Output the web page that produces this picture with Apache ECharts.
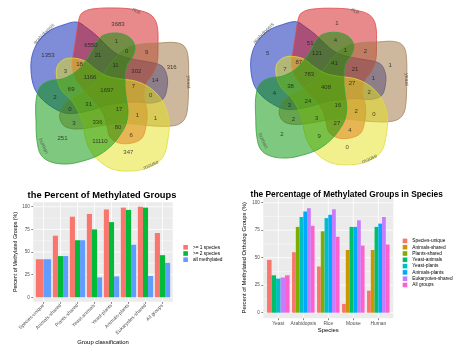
<!DOCTYPE html>
<html><head><meta charset="utf-8">
<script src="https://cdn.jsdelivr.net/npm/echarts@6/dist/echarts.min.js"></script>
<style>html,body{margin:0;padding:0;background:#fff}#c{width:461px;height:355px}</style>
</head><body><div id="c"></div>
<script>
// ---------------- DATA ----------------
const vennSets = ['arabidopsis', 'rice', 'yeast', 'mouse', 'human'];
// region counts, same region order in both diagrams
const vennCountsAll = [3683, 1353, 6550, 1, 0, 9, 21, 18, 3, 11, 302, 316, 1166, 14, 69, 1697, 7, 0, 2, 0, 31, 17, 1, 1, 3, 336, 80, 251, 11110, 6, 347];
const vennCountsMethylated = [1, 5, 51, 4, 1, 2, 121, 87, 7, 41, 21, 1, 783, 1, 38, 408, 27, 2, 4, 3, 24, 16, 2, 0, 2, 3, 27, 2, 9, 4, 0];

const groupCategories = ['Species-unique', 'Animals-shared', 'Plants-shared', 'Yeast-animals', 'Yeast-plants', 'Animals-plants', 'Eukaryotes-shared', 'All groups'];
const groupSeriesNames = ['>= 1 species', '>= 2 species', 'all methylated'];
const pctAtLeast1 = [42, 68, 89, 92, 97, 99, 100, 71];
const pctAtLeast2 = [null, 45.5, 63, 75, 83, 96.5, 99, 46.5];
const pctAllMethylated = [42, 45.5, 63, 22, 23, 58, 23.5, 38];

const speciesCategories = ['Yeast', 'Arabidopsis', 'Rice', 'Mouse', 'Human'];
const speciesSeriesNames = ['Species-unique', 'Animals-shared', 'Plants-shared', 'Yeast-animals', 'Yeast-plants', 'Animals-plants', 'Eukaryotes-shared', 'All groups'];
const spSpeciesUnique = [48, 55, 42, 8, 20];
const spAnimalsShared = [null, null, null, 57, 57];
const spPlantsShared = [null, 78, 74, null, null];
const spYeastAnimals = [34, null, null, 78, 78];
const spYeastPlants = [31, 87, 86, null, null];
const spAnimalsPlants = [null, 92, 89, 78, 81];
const spEukaryotesShared = [32, 95, 94, 84, 87];
const spAllGroups = [34, 79, 69, 61, 62];

const yTickValues = [0, 25, 50, 75, 100];

// ---------------- LAYOUT ----------------
const FONT = '"Liberation Sans", Arial, sans-serif';
// outlines of the five Venn sets (local px around diagram centre, y down)
const setOutlines = [
  // arabidopsis
  [[-44,-66],[-30,-69],[-20,-63],[-10,-55],[0,-45],[10,-37],[25,-32],[42,-29],[55,-25],[60,-15],[60,-3],[56,8],[45,12],[30,11],[15,12],[0,14],[-15,19],[-30,22],[-42,22],[-55,16],[-66,7],[-73,-4],[-76,-20],[-75,-35],[-69,-49],[-58,-60]],
  // rice
  [[-25,-78],[-15,-82],[10,-83],[30,-81],[44,-76],[50,-66],[51,-45],[50,-28],[45,-16],[39,-8],[37,5],[40,20],[39,35],[35,47],[25,52],[12,52],[3,46],[0,35],[-4,22],[-13,10],[-24,-2],[-32,-14],[-35,-26],[-33,-40],[-30,-60],[-28,-72]],
  // yeast
  [[53,-48],[68,-48.5],[77,-45],[81,-35],[81.5,-8],[80.5,18],[77,29],[68,34.5],[46,35],[22,32.5],[5,33],[-10,35.5],[-30,38],[-42,35.5],[-47,28],[-46,19],[-40,11],[-30,5],[-20,-1],[-10,-10],[-2,-20],[8,-33],[20,-43],[35,-47]],
  // mouse
  [[-44,-31],[-35,-33],[-22,-30],[-12,-22],[0,-15],[14,-12],[28,-10],[40,-5],[50,3],[58,15],[62,30],[61,48],[56,66],[43,76],[25,80],[5,78],[-10,68],[-18,57],[-22,45],[-24,32],[-29,20],[-36,9],[-45,0],[-50,-12],[-50,-24]],
  // human
  [[-3,-56],[10,-58],[22,-54],[28,-45],[26,-35],[20,-25],[18,-10],[19,5],[21,20],[19,33],[13,44],[5,54],[-8,64],[-24,70],[-40,73],[-56,71],[-66,64],[-70,50],[-71,30],[-71,10],[-67,-4],[-58,-10],[-45,-12],[-36,-16],[-28,-22],[-20,-32],[-14,-42],[-10,-50]]
];
const setFill = ['rgba(0,25,175,0.5)', 'rgba(210,20,25,0.5)', 'rgba(155,112,60,0.5)', 'rgba(230,225,25,0.5)', 'rgba(0,145,0,0.5)'];
const setStroke = ['#3a52c4', '#de4a4c', '#a58560', '#e2dc3a', '#34a43a'];
const setLabelPos = [[-63,-57],[29.5,-80],[81,-9],[44,74],[-63.5,55]];
const setLabelRot = [45, -25, -90, 25, -65];
const regionPos = [[11,-67],[-59,-36],[-16,-46],[9.5,-49.5],[19.7,-39.3],[39.7,-38.5],[-9,-35.7],[-27.5,-26.2],[-41.5,-19.8],[8.5,-26],[29.3,-19.3],[64.7,-23.2],[-17,-14],[48,-10.3],[-35.8,-1.7],[0,-1],[26.3,-4.7],[43.7,4.8],[-52,6],[-37,18],[-18.3,13.7],[12,18.5],[30.5,24],[48.5,27.8],[-33,32.7],[-9.5,31.2],[11,36.5],[-44.5,47.8],[-7,50.2],[24.2,44],[21.3,61.8]];

const groupColors = ['#F8766D', '#00BA38', '#619CFF'];
const speciesColors = ['#F8766D', '#CD9600', '#7CAE00', '#00BE67', '#00BFC4', '#00A9FF', '#C77CFF', '#FF61CC'];

// ---------------- BUILDERS ----------------
function vennShapeSeries(axisIdx, si) {
  return {
    type: 'custom', xAxisIndex: axisIdx, yAxisIndex: axisIdx, silent: true, z: 1,
    data: [[0, 0]],
    renderItem: function (params, api) {
      const pts = setOutlines[si].map(p => api.coord(p));
      return { type: 'polygon', shape: { points: pts, smooth: 0.35 },
        style: { fill: setFill[si], stroke: setStroke[si], lineWidth: 0.8 } };
    }
  };
}
function vennCountSeries(axisIdx, counts) {
  return {
    type: 'scatter', xAxisIndex: axisIdx, yAxisIndex: axisIdx, silent: true, z: 5,
    symbolSize: 1, itemStyle: { color: 'transparent' },
    data: counts.map((v, i) => [regionPos[i][0], regionPos[i][1], v]),
    label: { show: true, position: 'inside', formatter: p => String(p.value[2]),
      fontSize: 6, color: '#1a1a1a', fontFamily: FONT }
  };
}
function vennSetLabelSeries(axisIdx) {
  return {
    type: 'scatter', xAxisIndex: axisIdx, yAxisIndex: axisIdx, silent: true, z: 5,
    symbolSize: 1, itemStyle: { color: 'transparent' },
    data: vennSets.map((nm, i) => ({ name: nm, value: setLabelPos[i], label: { rotate: setLabelRot[i] } })),
    label: { show: true, position: 'inside', formatter: '{b}', fontSize: 5.4, color: '#4a4a4a', fontFamily: FONT }
  };
}
function barSeries(names, arrays, colors, axisIdx) {
  const nCat = arrays[0].length;
  const present = [];
  for (let ci = 0; ci < nCat; ci++) {
    const l = [];
    arrays.forEach((arr, si) => { if (arr[ci] != null) l.push(si); });
    present.push(l);
  }
  return arrays.map((arr, si) => ({
    type: 'custom', name: names[si], xAxisIndex: axisIdx, yAxisIndex: axisIdx, z: 3,
    itemStyle: { color: colors[si] }, encode: { x: 0, y: 1 },
    data: arr.map((v, ci) => v == null ? null : [ci + 1, v]).filter(d => d),
    renderItem: function (params, api) {
      const ci = api.value(0) - 1, v = api.value(1);
      const list = present[ci], m = list.length, k = list.indexOf(si);
      const w = 0.9 / m, x0 = ci + 1 - 0.45 + k * w;
      const p0 = api.coord([x0, v]), p1 = api.coord([x0 + w, 0]);
      return { type: 'rect', shape: { x: p0[0], y: p0[1], width: p1[0] - p0[0], height: p1[1] - p0[1] },
        style: { fill: colors[si] } };
    }
  }));
}
function gridLines(axisIdx, values, vertical, width) {
  return {
    type: 'custom', xAxisIndex: axisIdx, yAxisIndex: axisIdx, silent: true, z: 1,
    data: values.map(v => vertical ? [v, 0] : [1, v]),
    renderItem: function (params, api) {
      const cs = params.coordSys;
      if (vertical) {
        const x = api.coord([api.value(0), 0])[0];
        return { type: 'line', shape: { x1: x, y1: cs.y, x2: x, y2: cs.y + cs.height }, style: { stroke: '#fff', lineWidth: width } };
      }
      const y = api.coord([1, api.value(1)])[1];
      return { type: 'line', shape: { x1: cs.x, y1: y, x2: cs.x + cs.width, y2: y }, style: { stroke: '#fff', lineWidth: width } };
    }
  };
}
const minorY = yTickValues.slice(1).map((v, i) => (v + yTickValues[i]) / 2);
const hidden = { show: false };
function barXAxis(gridIndex, cats, rotate, nameText, nameGap) {
  const pos = cats.map((c, i) => i + 1);
  return {
    gridIndex, type: 'value', min: 0.4, max: cats.length + 0.6,
    splitLine: hidden, axisLine: { show: false, onZero: false },
    axisTick: { show: true, customValues: pos, length: 2, lineStyle: { color: '#333', width: 0.6 } },
    axisLabel: { customValues: pos, formatter: v => cats[Math.round(v) - 1] || '', rotate: rotate, margin: 3,
      fontSize: 4.9, color: '#4d4d4d', fontFamily: FONT },
    name: nameText, nameLocation: 'middle', nameGap: nameGap,
    nameTextStyle: { fontSize: 5.9, color: '#000', fontFamily: FONT }
  };
}
function barYAxis(gridIndex, nameText, nameSize) {
  return {
    gridIndex, type: 'value', min: -5, max: 105,
    splitLine: hidden, axisLine: { show: false, onZero: false },
    axisTick: { show: true, customValues: yTickValues, length: 2, lineStyle: { color: '#333', width: 0.6 } },
    axisLabel: { customValues: yTickValues, margin: 3.5, fontSize: 4.6, color: '#4d4d4d', fontFamily: FONT },
    name: nameText, nameLocation: 'middle', nameGap: 15.5,
    nameTextStyle: { fontSize: nameSize, color: '#000', fontFamily: FONT }
  };
}

const chart = echarts.init(document.getElementById('c'), null, { renderer: 'canvas' });
const series = [];
[0, 1, 2, 3, 4].forEach(i => series.push(vennShapeSeries(0, i)));
[0, 1, 2, 3, 4].forEach(i => series.push(vennShapeSeries(1, i)));
series.push(vennCountSeries(0, vennCountsAll));
series.push(vennCountSeries(1, vennCountsMethylated));
series.push(vennSetLabelSeries(0));
series.push(vennSetLabelSeries(1));
series.push(gridLines(2, yTickValues, false, 0.8));
series.push(gridLines(2, minorY, false, 0.4));
series.push(gridLines(2, groupCategories.map((c, i) => i + 1), true, 0.8));
series.push(gridLines(3, yTickValues, false, 0.8));
series.push(gridLines(3, minorY, false, 0.4));
series.push(gridLines(3, speciesCategories.map((c, i) => i + 1), true, 0.8));
barSeries(groupSeriesNames, [pctAtLeast1, pctAtLeast2, pctAllMethylated], groupColors, 2).forEach(s => series.push(s));
barSeries(speciesSeriesNames, [spSpeciesUnique, spAnimalsShared, spPlantsShared, spYeastAnimals, spYeastPlants, spAnimalsPlants, spEukaryotesShared, spAllGroups], speciesColors, 3).forEach(s => series.push(s));

chart.setOption({
  animation: false,
  backgroundColor: '#fff',
  grid: [
    { left: 7, top: 0, width: 200, height: 180 },
    { left: 227, top: 0.6, width: 198, height: 172.8 },
    { left: 33.3, top: 202.2, width: 139.4, height: 99.6, show: true, backgroundColor: '#EBEBEB', borderWidth: 0 },
    { left: 263.3, top: 197.2, width: 130, height: 121, show: true, backgroundColor: '#EBEBEB', borderWidth: 0 }
  ],
  xAxis: [
    { gridIndex: 0, type: 'value', min: -100, max: 100, show: false },
    { gridIndex: 1, type: 'value', min: -100, max: 100, show: false },
    barXAxis(2, groupCategories, 45, 'Group classification', 38),
    barXAxis(3, speciesCategories, 0, 'Species', 8)
  ],
  yAxis: [
    { gridIndex: 0, type: 'value', min: -91, max: 89, inverse: true, show: false },
    { gridIndex: 1, type: 'value', min: -91, max: 89, inverse: true, show: false },
    barYAxis(2, 'Percent of Methylated Groups (%)', 5.3),
    barYAxis(3, 'Percent of Methylated Ortholog Groups (%)', 5.8)
  ],
  legend: [
    { data: groupSeriesNames, orient: 'vertical', left: 183.3, top: 244.8, icon: 'rect',
      itemWidth: 4.6, itemHeight: 4.6, itemGap: 1.2, padding: 0, selectedMode: false,
      textStyle: { fontSize: 4.8, lineHeight: 5, color: '#000', fontFamily: FONT } },
    { data: speciesSeriesNames, orient: 'vertical', left: 402.7, top: 238.4, icon: 'rect',
      itemWidth: 4.6, itemHeight: 4.6, itemGap: 1.3, padding: 0, selectedMode: false,
      textStyle: { fontSize: 4.8, lineHeight: 5, color: '#000', fontFamily: FONT } }
  ],
  graphic: [
    { type: 'text', x: 102, y: 195, style: { text: 'the Percent of Methylated Groups', fontSize: 9.3, fontWeight: 'bold', fontFamily: FONT, fill: '#000', align: 'center', verticalAlign: 'middle' } },
    { type: 'text', x: 346.7, y: 195, style: { text: 'the Percentage of Methylated Groups in Species', fontSize: 8.4, fontWeight: 'bold', fontFamily: FONT, fill: '#000', align: 'center', verticalAlign: 'middle' } }
  ],
  series: series
});
</script></body></html>
